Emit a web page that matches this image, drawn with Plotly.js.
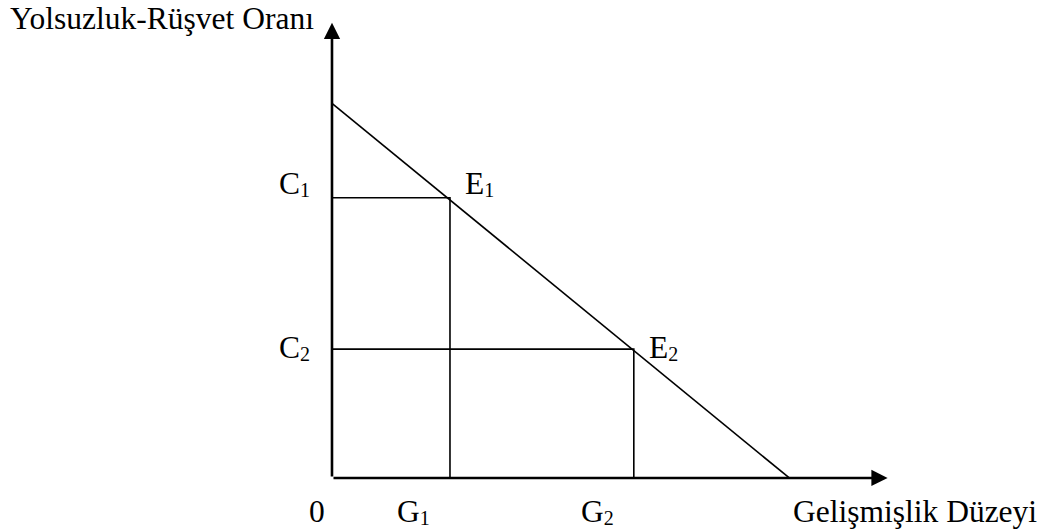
<!DOCTYPE html>
<html>
<head>
<meta charset="utf-8">
<script src="https://cdn.plot.ly/plotly-3.0.1.min.js"></script>
<style>html,body{margin:0;padding:0;background:#fff;}#chart{width:1044px;height:530px;}</style>
</head>
<body>
<div id="chart"></div>
<script>
// ---- data ----
const curveX = [0, 10];          // Gelişmişlik Düzeyi
const curveY = [10, 0];          // Yolsuzluk-Rüşvet Oranı
const gNames = ['G', 'G'];
const gSubs = ['1', '2'];
const gValues = [2.58, 6.6];
const cNames = ['C', 'C'];
const cSubs = ['1', '2'];
const cValues = [7.48, 3.44];
const eNames = ['E', 'E'];
const eSubs = ['1', '2'];
const axisMax = 12.15;
const originLabel = '0';
const xTitle = 'Gelişmişlik Düzeyi';
const yTitle = 'Yolsuzluk-Rüşvet Oranı';

// ---- styles ----
const FONT = '"Liberation Serif", "Times New Roman", serif';
const FS = 31.5;
const SUBFS = 20;
const black = '#000000';
const lab = (n, s) => n + '<span style="font-size:' + SUBFS + 'px;baseline-shift:-3px">' + s + '</span>';

const traces = [];
traces.push({x: curveX, y: curveY, mode: 'lines', line: {color: black, width: 1.6}, hoverinfo: 'skip'});
for (let i = 0; i < gValues.length; i++) {
  traces.push({
    x: [0, gValues[i], gValues[i]],
    y: [cValues[i], cValues[i], 0],
    mode: 'lines', line: {color: black, width: 1.6}, hoverinfo: 'skip'
  });
}

const ann = [];
ann.push({x: axisMax, y: 0, ax: 0, ay: 0, xref: 'x', yref: 'y', axref: 'x', ayref: 'y',
  text: '', showarrow: true, arrowhead: 2, arrowwidth: 2.6, arrowsize: 1.25, arrowcolor: black, standoff: 0, startstandoff: 0});
ann.push({x: 0, y: axisMax, ax: 0, ay: 0, xref: 'x', yref: 'y', axref: 'x', ayref: 'y',
  text: '', showarrow: true, arrowhead: 2, arrowwidth: 2.6, arrowsize: 1.25, arrowcolor: black, standoff: 0, startstandoff: 0});

const tf = {family: FONT, size: FS, color: black};
const cShift = [14, 2];
const eShift = [14, 2];
for (let i = 0; i < gValues.length; i++) {
  ann.push({x: 0, y: cValues[i], xref: 'x', yref: 'y', text: lab(cNames[i], cSubs[i]), showarrow: false,
    xanchor: 'right', yanchor: 'middle', xshift: -20, yshift: cShift[i], font: tf});
  ann.push({x: gValues[i], y: cValues[i], xref: 'x', yref: 'y', text: lab(eNames[i], eSubs[i]), showarrow: false,
    xanchor: 'left', yanchor: 'middle', xshift: 13, yshift: eShift[i], font: tf});
  ann.push({x: gValues[i], y: 0, xref: 'x', yref: 'y', text: lab(gNames[i], gSubs[i]), showarrow: false,
    xanchor: 'right', yanchor: 'middle', xshift: -18, yshift: -34, font: tf});
}
ann.push({x: 0, y: 0, xref: 'x', yref: 'y', text: originLabel, showarrow: false,
  xanchor: 'right', yanchor: 'middle', xshift: -5, yshift: -34, font: tf});
ann.push({x: 1, y: 0, xref: 'paper', yref: 'y', text: xTitle, showarrow: false,
  xanchor: 'right', yanchor: 'middle', xshift: -5, yshift: -34, font: tf});
ann.push({x: 0, y: 1, xref: 'paper', yref: 'paper', text: yTitle, showarrow: false,
  xanchor: 'left', yanchor: 'middle', xshift: 8, yshift: -18, font: tf});

const layout = {
  width: 1044, height: 530,
  margin: {l: 0, r: 0, t: 0, b: 0},
  paper_bgcolor: '#ffffff', plot_bgcolor: '#ffffff',
  showlegend: false,
  xaxis: {range: [-7.26, 15.57], visible: false, fixedrange: true},
  yaxis: {range: [-1.388, 12.757], visible: false, fixedrange: true},
  annotations: ann
};

Plotly.newPlot('chart', traces, layout, {staticPlot: true, displayModeBar: false});
</script>
</body>
</html>
